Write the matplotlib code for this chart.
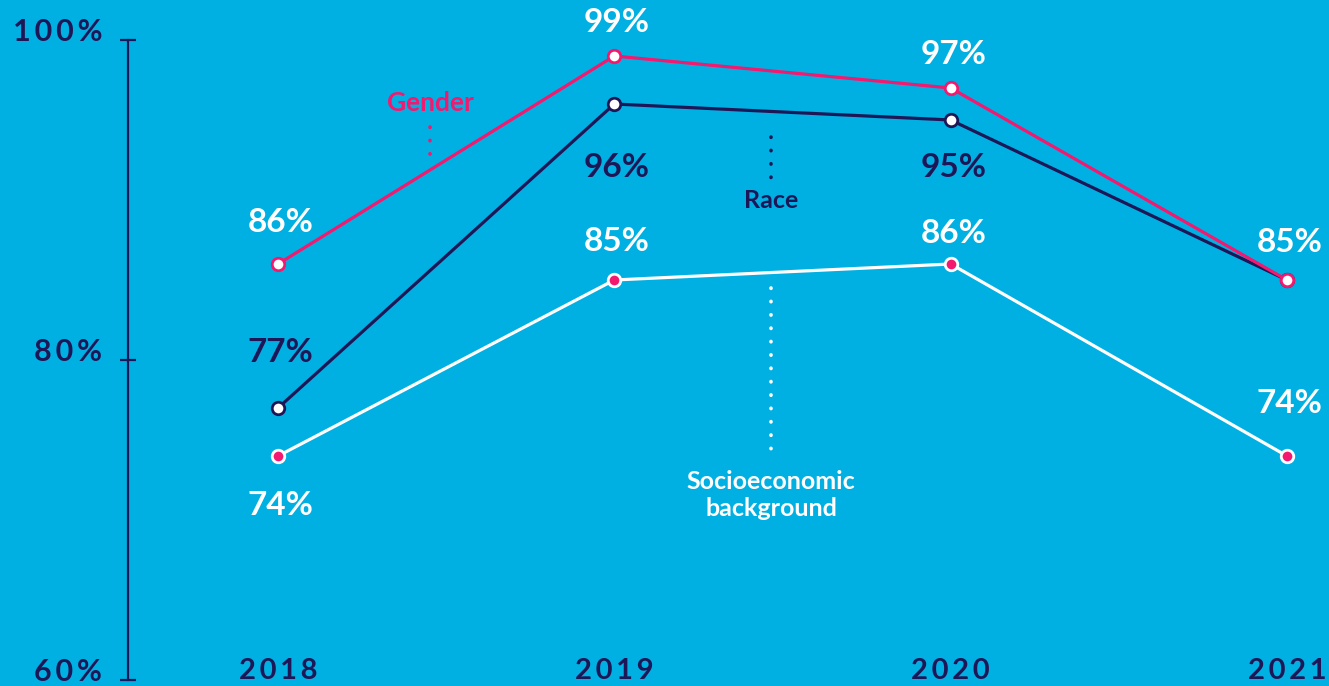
import matplotlib.pyplot as plt
from matplotlib.transforms import ScaledTranslation

# share of respondents per dimension, by survey year
years = [2018, 2019, 2020, 2021]
gender = [86, 99, 97, 85]
race = [77, 96, 95, 85]
socio = [74, 85, 86, 74]
race_labelled = [True, True, True, False]  # 2021 race value sits under the gender label

ytick_vals = [60, 80, 100]
ytick_labels = ['60%', '80%', '100%']

BG = '#00b0e3'
PINK = '#f2196f'
NAVY = '#1e1757'
WHITE = '#ffffff'
FONT = 'Lato'

plt.rcParams['font.family'] = [FONT, 'DejaVu Sans']

fig = plt.figure(figsize=(13.29, 6.86), dpi=100, facecolor=BG)
ax = fig.add_axes([128 / 1329, 0, 1201 / 1329, 1])
ax.set_facecolor(BG)

# one year = 336.3 px, one percent = 16 px
ax.set_xlim(2018 - 150 / 336.3, 2021 + 42 / 336.3)
ax.set_ylim(60 - 6 / 16, 100 + 40 / 16)

for s in ['top', 'right', 'bottom']:
    ax.spines[s].set_visible(False)
ax.spines['left'].set_color(NAVY)
ax.spines['left'].set_linewidth(1.6)
ax.spines['left'].set_bounds(60, 100)

ax.set_yticks(ytick_vals)
ax.set_yticklabels(['\u2009'.join(t) for t in ytick_labels])
ax.tick_params(axis='y', direction='inout', length=11, width=1.6, color=NAVY,
               pad=13, labelsize=22, labelcolor=NAVY)
for lab in ax.get_yticklabels():
    lab.set_fontweight('bold')
    lab.set_transform(lab.get_transform() + ScaledTranslation(0, 11 / 100, fig.dpi_scale_trans))

ax.set_xticks(years)
ax.set_xticklabels(['\u2009'.join(str(y)) for y in years])
ax.tick_params(axis='x', length=0, pad=-1.5, labelsize=21, labelcolor=NAVY)
for lab in ax.get_xticklabels():
    lab.set_fontweight('bold')
    lab.set_verticalalignment('bottom')

line_kw = dict(lw=2.3, marker='o', markersize=9, markeredgewidth=2)
ax.plot(years, socio, color=WHITE, markerfacecolor=PINK, markeredgecolor=WHITE, zorder=3, **line_kw)
ax.plot(years, race, color=NAVY, markerfacecolor=WHITE, markeredgecolor=NAVY, zorder=4, **line_kw)
ax.plot(years, gender, color=PINK, markerfacecolor=WHITE, markeredgecolor=PINK, zorder=5, **line_kw)

# value labels: offsets in pixels (negative = above the point)
gender_off = [-42, -34, -34, -38]
race_off = [-56, 63, 47, 0]
socio_off = [49, -39, -31, -53]


def value_labels(vals, offs, color, show=None):
    for i, (x, v, o) in enumerate(zip(years, vals, offs)):
        if show is not None and not show[i]:
            continue
        ax.annotate(f'{v}%', (x, v), xytext=(2, -o * 0.72), textcoords='offset points',
                    ha='center', va='center', fontsize=24, fontweight='bold', color=color)


value_labels(gender, gender_off, WHITE)
value_labels(race, race_off, NAVY, race_labelled)
value_labels(socio, socio_off, WHITE)

# series name callouts with dotted leaders
dot_kw = dict(lw=2.6, linestyle=(0, (0.1, 3.6)), dash_capstyle='round')
ax.plot([2018.452, 2018.452], [94.56, 92.44], color=PINK, **dot_kw)
ax.text(2018.452, 96.06, 'Gender', color=PINK, ha='center', va='center', fontsize=19, fontweight='bold')

ax.plot([2019.466, 2019.466], [93.94, 91.19], color=NAVY, **dot_kw)
ax.text(2019.466, 89.94, 'Race', color=NAVY, ha='center', va='center', fontsize=18, fontweight='bold')

ax.plot([2019.466, 2019.466], [84.5, 74.06], color=WHITE, **dot_kw)
ax.text(2019.466, 71.56, 'Socioeconomic\nbackground', color=WHITE, ha='center', va='center',
        fontsize=18, fontweight='bold', linespacing=1.2)

fig.savefig('out.png', dpi=100, facecolor=BG)
